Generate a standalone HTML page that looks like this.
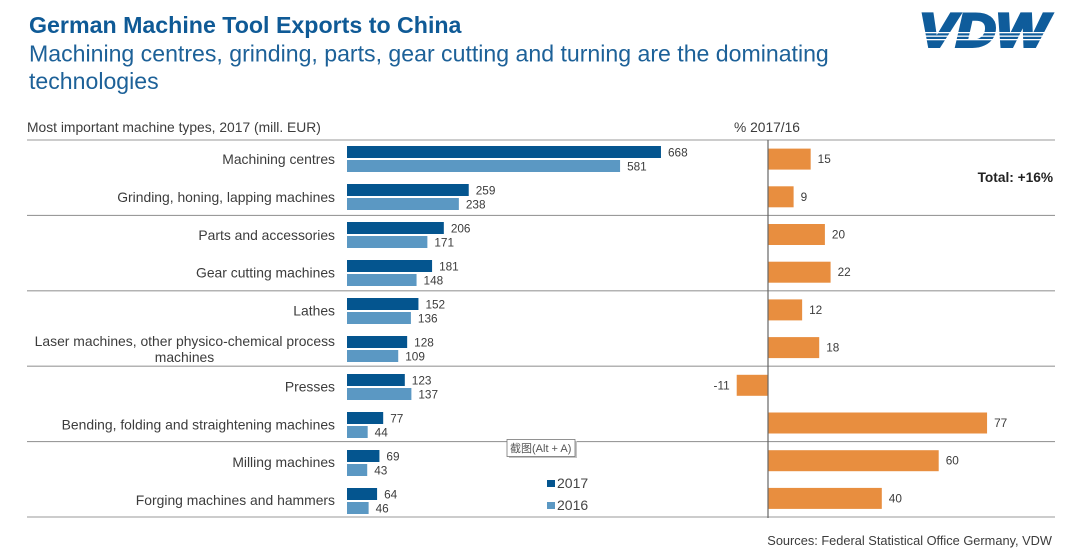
<!DOCTYPE html>
<html lang="en">
<head>
<meta charset="utf-8">
<title>German Machine Tool Exports to China</title>
<style>
html,body{margin:0;padding:0;background:#fff;}
body{width:1080px;height:553px;overflow:hidden;}
svg{display:block;font-family:"Liberation Sans","Noto Sans CJK SC",sans-serif;}
</style>
</head>
<body>
<svg id="chart" width="1080" height="553" viewBox="0 0 1080 553" xmlns="http://www.w3.org/2000/svg">
  <text x="29" y="33" font-size="23.2" font-weight="bold" fill="#0f5a96">German Machine Tool Exports to China</text>
  <text x="29" y="61.5" font-size="23.1" fill="#1d6198">Machining centres, grinding, parts, gear cutting and turning are the dominating</text>
  <text x="29" y="89" font-size="23.1" fill="#1d6198">technologies</text>

  <g>
    <text x="919" y="46.5" font-size="47" font-weight="bold" font-style="italic" fill="#0f5c9b" stroke="#0f5c9b" stroke-width="3" textLength="129" lengthAdjust="spacingAndGlyphs">VDW</text>
    <rect x="915" y="32" width="140" height="1.3" fill="#fff"></rect>
    <rect x="915" y="35.5" width="140" height="1.3" fill="#fff"></rect>
    <rect x="915" y="39" width="140" height="1.3" fill="#fff"></rect>
  </g>

  <text x="27" y="132" font-size="13.85" fill="#3c3c3c">Most important machine types, 2017 (mill. EUR)</text>
  <text x="734" y="132" font-size="13.8" fill="#3c3c3c">% 2017/16</text>
  <text x="1053" y="182" font-size="13.7" font-weight="bold" text-anchor="end" fill="#222">Total: +16%</text>

  <g id="separators"></g>
  <g id="rows"></g>

  <line x1="768" x2="768" y1="140" y2="518" stroke="#666" stroke-width="1.2"></line>

  <g>
    <rect x="547" y="480" width="8" height="7" fill="#04558f"></rect>
    <text x="557" y="488" font-size="14" fill="#444">2017</text>
    <rect x="547" y="502" width="8" height="7" fill="#5b98c3"></rect>
    <text x="557" y="510" font-size="14" fill="#444">2016</text>
  </g>

  <g>
    <rect x="509" y="441" width="68" height="17" fill="#c4c4c4"></rect>
    <rect x="507" y="439.5" width="68" height="17" fill="#fff" stroke="#777" stroke-width="0.8"></rect>
    <text x="510" y="452" font-size="11" fill="#555">截图(Alt + A)</text>
  </g>

  <text x="1052" y="545" font-size="12.8" text-anchor="end" fill="#3c3c3c">Sources: Federal Statistical Office Germany, VDW</text>
</svg>
<script>
const categories = [
  ["Machining centres"],
  ["Grinding, honing, lapping machines"],
  ["Parts and accessories"],
  ["Gear cutting machines"],
  ["Lathes"],
  ["Laser machines, other physico-chemical process", "machines"],
  ["Presses"],
  ["Bending, folding and straightening machines"],
  ["Milling machines"],
  ["Forging machines and hammers"]
];
const values2017 = [668, 259, 206, 181, 152, 128, 123, 77, 69, 64];
const values2016 = [581, 238, 171, 148, 136, 109, 137, 44, 43, 46];
const changePercent = [15, 9, 20, 22, 12, 18, -11, 77, 60, 40];
const groupCount = 5;

const NS = "http://www.w3.org/2000/svg";
const xValue = v => 347 + v * 0.47;
const xChange = v => 768 + v * 2.845;
const barRowY = i => 159 + i * 38;
const changeRowY = i => 159.1 + i * 37.7;
const labelRowY = i => 164 + i * 37.9;
const separatorY = k => 140 + k * 75.4;

function make(tag, parent, attrs, text) {
  const el = document.createElementNS(NS, tag);
  for (const k in attrs) el.setAttribute(k, attrs[k]);
  if (text !== undefined) el.textContent = text;
  parent.appendChild(el);
  return el;
}

const sepGroup = document.getElementById("separators");
const rowsGroup = document.getElementById("rows");

for (let k = 0; k <= groupCount; k++) {
  const y = separatorY(k);
  const line = make("line", sepGroup, {x1: 27, x2: 1055, y1: y, y2: y, stroke: "#9a9a9a", "stroke-width": 1.1});
  
  
}

categories.forEach(function (lines, i) {
  const cy = barRowY(i);
  const isLong = lines.length > 1;

  lines.forEach(function (line, j) {
    const label = make("text", rowsGroup, {
      x: isLong && j === 1 ? 184.5 : 335,
      y: isLong ? labelRowY(i) - 7.5 + j * 16 : labelRowY(i),
      "font-size": 13.9,
      fill: "#3c3c3c",
      "text-anchor": isLong && j === 1 ? "middle" : "end"
    }, line);
    
    
  });

  const bar17 = make("rect", rowsGroup, {x: xValue(0), y: cy - 13, width: xValue(values2017[i]) - xValue(0), height: 12, fill: "#04558f"});
  
  

  const bar16 = make("rect", rowsGroup, {x: xValue(0), y: cy + 1, width: xValue(values2016[i]) - xValue(0), height: 12, fill: "#5b98c3"});
  
  

  const val17 = make("text", rowsGroup, {x: xValue(values2017[i]) + 7, y: cy - 2.5, "font-size": 11.8, fill: "#3c3c3c"}, String(values2017[i]));
  
  

  const val16 = make("text", rowsGroup, {x: xValue(values2016[i]) + 7, y: cy + 11.5, "font-size": 11.8, fill: "#3c3c3c"}, String(values2016[i]));
  
  

  const c = changePercent[i];
  const ry = changeRowY(i);
  const barC = make("rect", rowsGroup, {
    x: Math.min(xChange(0), xChange(c)),
    y: ry - 10.5,
    width: Math.abs(xChange(c) - xChange(0)),
    height: 21,
    fill: "#e88e3f"
  });
  
  

  const valC = make("text", rowsGroup, {
    x: c < 0 ? xChange(c) - 7 : xChange(c) + 7,
    y: ry + 4,
    "font-size": 11.8,
    fill: "#3c3c3c",
    "text-anchor": c < 0 ? "end" : "start"
  }, String(c));
  
  
});
</script>
</body>
</html>
